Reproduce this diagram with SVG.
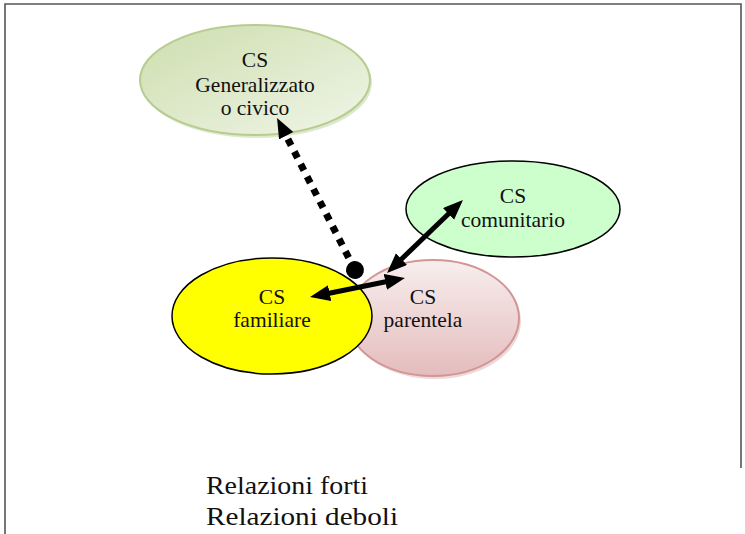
<svg xmlns="http://www.w3.org/2000/svg" width="745" height="534" viewBox="0 0 745 534">
<style>
  .lbl{font-family:"Liberation Serif","Times New Roman",serif;font-size:21.5px;fill:#111;text-anchor:middle}
  .leg{font-family:"Liberation Serif","Times New Roman",serif;font-size:25px;fill:#111}
  .conn{stroke:#000;fill:none}
</style>
<defs>
  <linearGradient id="gGreen" x1="0" y1="0" x2="1" y2="1">
    <stop offset="0" stop-color="#cddeae"/>
    <stop offset="1" stop-color="#f0f5e8"/>
  </linearGradient>
  <linearGradient id="gPink" x1="0" y1="0" x2="0" y2="1">
    <stop offset="0" stop-color="#f8eeee"/>
    <stop offset="1" stop-color="#e4bcbc"/>
  </linearGradient>
  <marker id="arrow" markerUnits="userSpaceOnUse" markerWidth="22" markerHeight="18" refX="3" refY="8" orient="auto-start-reverse" viewBox="0 0 22 18">
    <path d="M0,0 L20,8 L0,16 z" fill="#000"/>
  </marker>
  <marker id="dot" markerUnits="userSpaceOnUse" markerWidth="20" markerHeight="20" refX="10" refY="10" orient="auto" viewBox="0 0 20 20">
    <circle cx="10" cy="10" r="9" fill="#000"/>
  </marker>
</defs>
<rect width="745" height="534" fill="#fff"/>
<g id="frame" stroke="#555" stroke-width="1.6" fill="none">
  <polyline points="5,534 5,4 741,4 741,468"/>
</g>
<g id="node-generalizzato">
  <ellipse cx="257" cy="83" rx="115" ry="55" fill="#c9d8ad" opacity="0.6"/>
  <ellipse cx="255" cy="80" rx="115" ry="55" fill="url(#gGreen)" stroke="#b7cd90" stroke-width="2"/>
  <text class="lbl" x="255" y="67">CS</text>
  <text class="lbl" x="255" y="92">Generalizzato</text>
  <text class="lbl" x="255" y="115">o civico</text>
</g>
<g id="node-comunitario">
  <ellipse cx="513" cy="209" rx="107" ry="48" fill="#ccffcc" stroke="#000" stroke-width="1.5"/>
  <text class="lbl" x="513" y="203">CS</text>
  <text class="lbl" x="513" y="227">comunitario</text>
</g>
<g id="node-parentela">
  <ellipse cx="435" cy="321" rx="86" ry="58" fill="#d9b4b4" opacity="0.5"/>
  <ellipse cx="433" cy="318" rx="86" ry="58" fill="url(#gPink)" stroke="#d39595" stroke-width="2"/>
  <text class="lbl" x="423" y="304">CS</text>
  <text class="lbl" x="423" y="327">parentela</text>
</g>
<g id="node-familiare">
  <ellipse cx="272" cy="316" rx="100" ry="58" fill="#ffff00" stroke="#000" stroke-width="1.5"/>
  <text class="lbl" x="272" y="304">CS</text>
  <text class="lbl" x="272" y="327">familiare</text>
</g>
<g id="connectors">
  <line class="conn" x1="355" y1="270" x2="284.8" y2="133.1" stroke-width="7" stroke-dasharray="7 7" marker-start="url(#dot)" marker-end="url(#arrow)"/>
  <line class="conn" x1="326.7" y1="293.7" x2="388.3" y2="281.3" stroke-width="5" marker-start="url(#arrow)" marker-end="url(#arrow)"/>
  <line class="conn" x1="399.3" y1="261.2" x2="450.7" y2="211.8" stroke-width="5" marker-start="url(#arrow)" marker-end="url(#arrow)"/>
</g>
<g id="legend">
  <text class="leg" x="206" y="494" textLength="162" lengthAdjust="spacingAndGlyphs">Relazioni forti</text>
  <text class="leg" x="206" y="525" textLength="192" lengthAdjust="spacingAndGlyphs">Relazioni deboli</text>
</g>
</svg>
